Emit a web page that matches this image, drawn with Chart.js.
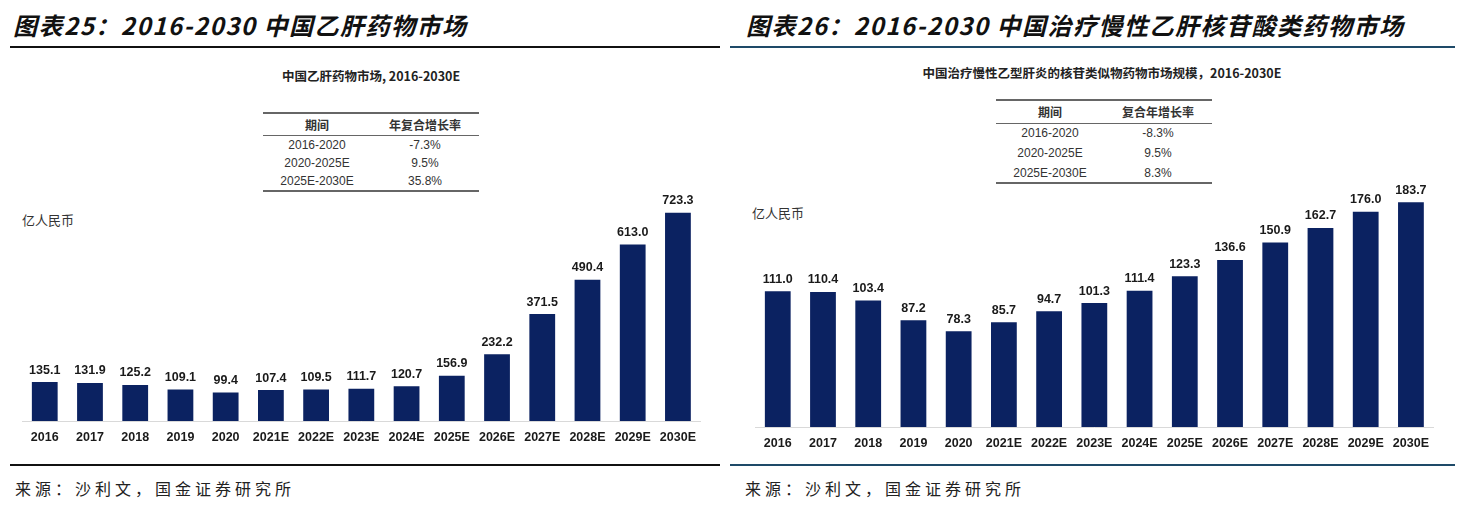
<!DOCTYPE html>
<html>
<head>
<meta charset="utf-8">
<script src="https://cdn.jsdelivr.net/npm/chart.js@4.4.1/dist/chart.umd.min.js"></script>
<style>
  body { margin: 0; background: #fff; }
  #page { position: relative; width: 1463px; height: 507px; overflow: hidden; background: #fff; font-family: "Noto Sans CJK SC", "Liberation Sans", sans-serif; color: #222; }
  .abs { position: absolute; }
  .fig-title { font-size: 24px; font-weight: bold; font-style: italic; letter-spacing: 1.5px; white-space: nowrap; line-height: 30px; color: #111; }
  .rule { height: 2px; }
  .source { font-size: 16px; letter-spacing: 4px; white-space: nowrap; line-height: 20px; color: #222; }
  .inner-title { font-size: 12.5px; font-weight: bold; white-space: nowrap; line-height: 16px; color: #222; transform: translateX(-50%); }
  .unit { font-size: 13px; line-height: 16px; color: #333; white-space: nowrap; }
  table.cagr { border-collapse: collapse; font-family: "Liberation Sans", "Noto Sans CJK SC", sans-serif; font-size: 12px; color: #333; }
  table.cagr td, table.cagr th { padding: 0; text-align: center; width: 108px; }
  table.cagr th { font-family: "Noto Sans CJK SC", sans-serif; font-weight: bold; border-top: 2px solid #666; border-bottom: 1px solid #666; }
  table.cagr tr:last-child td { border-bottom: 2px solid #666; }
</style>
</head>
<body>
<div id="page">
  <div class="abs fig-title" style="left:13px; top:10px;">图表25：2016-2030 中国乙肝药物市场</div>
  <div class="abs rule" style="left:10px; top:46px; width:710px; background:#111;"></div>
  <div class="abs fig-title" style="left:746px; top:10px;">图表26：2016-2030 中国治疗慢性乙肝核苷酸类药物市场</div>
  <div class="abs rule" style="left:730px; top:46px; width:725px; background:#1e4a68;"></div>

  <div class="abs inner-title" style="left:371px; top:68px;">中国乙肝药物市场, 2016-2030E</div>
  <table class="abs cagr" id="tableA" style="left:263px; top:112px;"></table>
  <div class="abs unit" style="left:22px; top:212px;">亿人民币</div>

  <div class="abs inner-title" style="left:1102px; top:65px;">中国治疗慢性乙型肝炎的核苷类似物药物市场规模，2016-2030E</div>
  <table class="abs cagr" id="tableB" style="left:996px; top:99px;"></table>
  <div class="abs unit" style="left:752px; top:205px;">亿人民币</div>

  <div class="abs" style="left:22px; top:170px; width:683px; height:277px;"><canvas id="chartA"></canvas></div>
  <div class="abs" style="left:755px; top:178px; width:683px; height:275px;"><canvas id="chartB"></canvas></div>

  <div class="abs rule" style="left:10px; top:464px; width:710px; background:#111;"></div>
  <div class="abs rule" style="left:730px; top:464px; width:725px; background:#1e4a68;"></div>
  <div class="abs source" style="left:15px; top:478px;">来源：沙利文，国金证券研究所</div>
  <div class="abs source" style="left:745px; top:478px;">来源：沙利文，国金证券研究所</div>
</div>

<script>
// categories
const years = ['2016', '2017', '2018', '2019', '2020', '2021E', '2022E', '2023E', '2024E', '2025E', '2026E', '2027E', '2028E', '2029E', '2030E'];

// 中国乙肝药物市场 (亿人民币)
const hbvMarket = [135.1, 131.9, 125.2, 109.1, 99.4, 107.4, 109.5, 111.7, 120.7, 156.9, 232.2, 371.5, 490.4, 613.0, 723.3];
// 核苷类似物药物市场 (亿人民币)
const nucMarket = [111.0, 110.4, 103.4, 87.2, 78.3, 85.7, 94.7, 101.3, 111.4, 123.3, 136.6, 150.9, 162.7, 176.0, 183.7];

// CAGR tables
const periods = ['2016-2020', '2020-2025E', '2025E-2030E'];
const cagrA = ['-7.3%', '9.5%', '35.8%'];
const cagrB = ['-8.3%', '9.5%', '8.3%'];

function fillTable(id, header, rates, headH, rowH) {
  const t = document.getElementById(id);
  let html = `<tr style="height:${headH}px"><th>期间</th><th>${header}</th></tr>`;
  periods.forEach((p, i) => {
    html += `<tr style="height:${rowH}px"><td>${p}</td><td>${rates[i]}</td></tr>`;
  });
  t.innerHTML = html;
}
fillTable('tableA', '年复合增长率', cagrA, 22, 18.7);
fillTable('tableB', '复合年增长率', cagrB, 23, 20);

const labelFont = 'bold 12.5px "Liberation Sans Narrow", "Liberation Sans", Arial, sans-serif';

// value labels above bars
const valueLabels = {
  id: 'valueLabels',
  afterDatasetsDraw(chart) {
    const ctx = chart.ctx;
    const meta = chart.getDatasetMeta(0);
    const data = chart.data.datasets[0].data;
    ctx.save();
    ctx.font = labelFont;
    ctx.fillStyle = '#1a1a1a';
    ctx.textAlign = 'center';
    ctx.textBaseline = 'middle';
    meta.data.forEach((bar, i) => {
      ctx.fillText(data[i].toFixed(1), bar.x, bar.y - 12);
    });
    ctx.restore();
  }
};

function makeChart(id, values, yMax) {
  return new Chart(document.getElementById(id).getContext('2d'), {
    type: 'bar',
    data: {
      labels: years,
      datasets: [{
        data: values,
        backgroundColor: '#0b2261',
        categoryPercentage: 1,
        barPercentage: 0.57
      }]
    },
    options: {
      responsive: true,
      maintainAspectRatio: false,
      animation: false,
      layout: { padding: 0 },
      plugins: { legend: { display: false }, tooltip: { enabled: false } },
      scales: {
        x: {
          grid: { display: false, drawTicks: false },
          border: { display: true, color: '#d9d9d9', width: 1 },
          ticks: {
            color: '#1a1a1a',
            padding: 9,
            maxRotation: 0,
            autoSkip: false,
            font: { family: '"Liberation Sans Narrow", "Liberation Sans", Arial, sans-serif', size: 12.5, weight: 'bold' }
          },
          afterFit(scale) { scale.height = 26; }
        },
        y: { display: false, min: 0, max: yMax }
      }
    },
    plugins: [valueLabels]
  });
}

makeChart('chartA', hbvMarket, 872);
makeChart('chartB', nucMarket, 203.6);
</script>
</body>
</html>
